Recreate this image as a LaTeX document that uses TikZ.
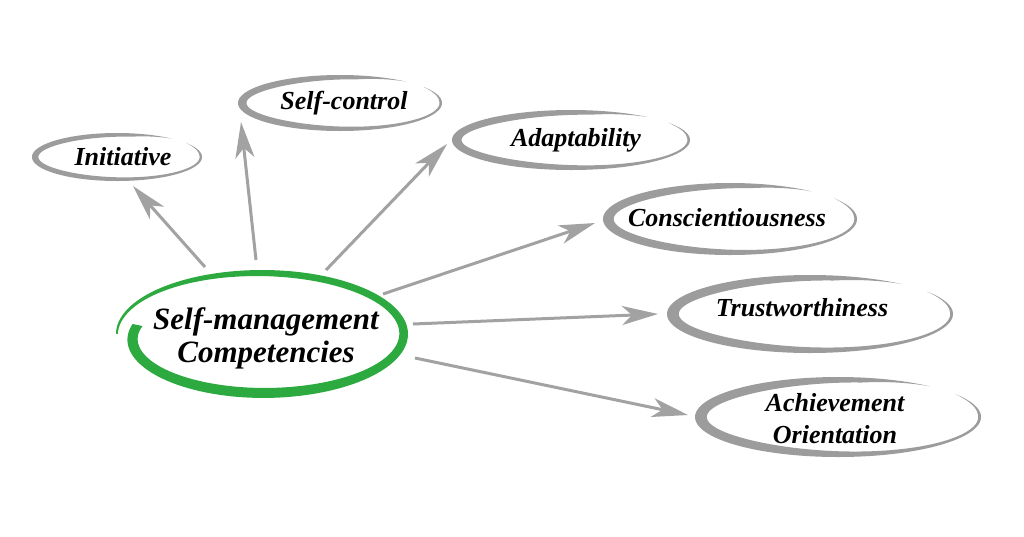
\documentclass[tikz,border=0pt]{standalone}
\usepackage{fontspec}
\setmainfont{Liberation Serif}
\usetikzlibrary{arrows.meta}
\definecolor{ellgray}{HTML}{9C9C9C}
\definecolor{arrgray}{HTML}{A2A2A2}
\definecolor{brushgreen}{HTML}{2DAA3F}
\tikzset{
  lbl/.style={font=\fontsize{26}{32}\selectfont\bfseries\itshape, inner sep=0pt, align=center},
  mainlbl/.style={font=\fontsize{31}{33}\selectfont\bfseries\itshape, inner sep=0pt, align=center},
  conn/.style={arrgray, line width=3pt, -{Stealth[length=36pt,width=19pt,inset=10pt]}},
  declare function={
    bw(\t,\a,\b)=min(1,(\t+35)/30,(310-\t)/30)*(\a+\b*((1-cos(\t))/2)^1.6);
    gs(\u)=1-0.1*(1-min(\u,0.3)/0.3)^2;
    gw(\u)=1.8+8.5*(1-\u^2.5);
  }
}
\newcommand{\brushell}[6]{%
  \fill[ellgray] plot[variable=\t,domain=-35:310,samples=150,smooth] ({#1+(#3)*cos(\t)},{#2+(#4)*sin(\t)})
   -- plot[variable=\t,domain=310:-35,samples=150,smooth] ({#1+(#3-bw(\t,#5,#6))*cos(\t)},{#2+(#4-bw(\t,#5,#6))*sin(\t)}) -- cycle;}
\begin{document}
\begin{tikzpicture}[x=1pt,y=-1pt]
\useasboundingbox (0,0) rectangle (1024,536);
\fill[white] (0,0) rectangle (1024,536);

% gray brush ellipses
\brushell{117}{157}{85}{24}{2.4}{4}
\brushell{340}{103}{102}{28}{2.5}{6}
\brushell{571}{140}{119}{30}{2.6}{7}
\brushell{730}{219}{127}{36}{2.7}{8}
\brushell{810}{314}{143}{39}{2.8}{9}
\brushell{838}{417}{143}{40}{2.8}{9}

% green spiral ellipse
\fill[brushgreen] plot[variable=\u,domain=0:1,samples=220,smooth]
   ({262+gs(\u)*146*cos(190-370*\u)},{334+gs(\u)*64*sin(190-370*\u)})
  -- plot[variable=\u,domain=1:0,samples=220,smooth]
   ({262+(gs(\u)*146-gw(\u))*cos(190-370*\u)},{334+(gs(\u)*64-gw(\u))*sin(190-370*\u)}) -- cycle;

% labels
\node[mainlbl] (main) at (266,338) {Self-management\\Competencies};
\node[lbl] (init) at (123,157) {Initiative};
\node[lbl] (selfc) at (344,103) {Self-control};
\node[lbl] (adapt) at (576,140) {Adaptability};
\node[lbl] (consc) at (727,218) {Conscientiousness};
\node[lbl] (trust) at (802,308) {Trustworthiness};
\node[lbl] (achv) at (835,419) {Achievement\\Orientation};

% connector ends
\coordinate (s1) at (205,267); \coordinate (e1) at (133,186);
\coordinate (s2) at (256,260); \coordinate (e2) at (241,122);
\coordinate (s3) at (326,270); \coordinate (e3) at (447,144);
\coordinate (s4) at (383,294); \coordinate (e4) at (595,223);
\coordinate (s5) at (413,324); \coordinate (e5) at (658,314);
\coordinate (s6) at (415,358); \coordinate (e6) at (688,415);

\draw[conn] (s1) -- (e1);
\draw[conn] (s2) -- (e2);
\draw[conn] (s3) -- (e3);
\draw[conn] (s4) -- (e4);
\draw[conn] (s5) -- (e5);
\draw[conn] (s6) -- (e6);
\end{tikzpicture}
\end{document}
